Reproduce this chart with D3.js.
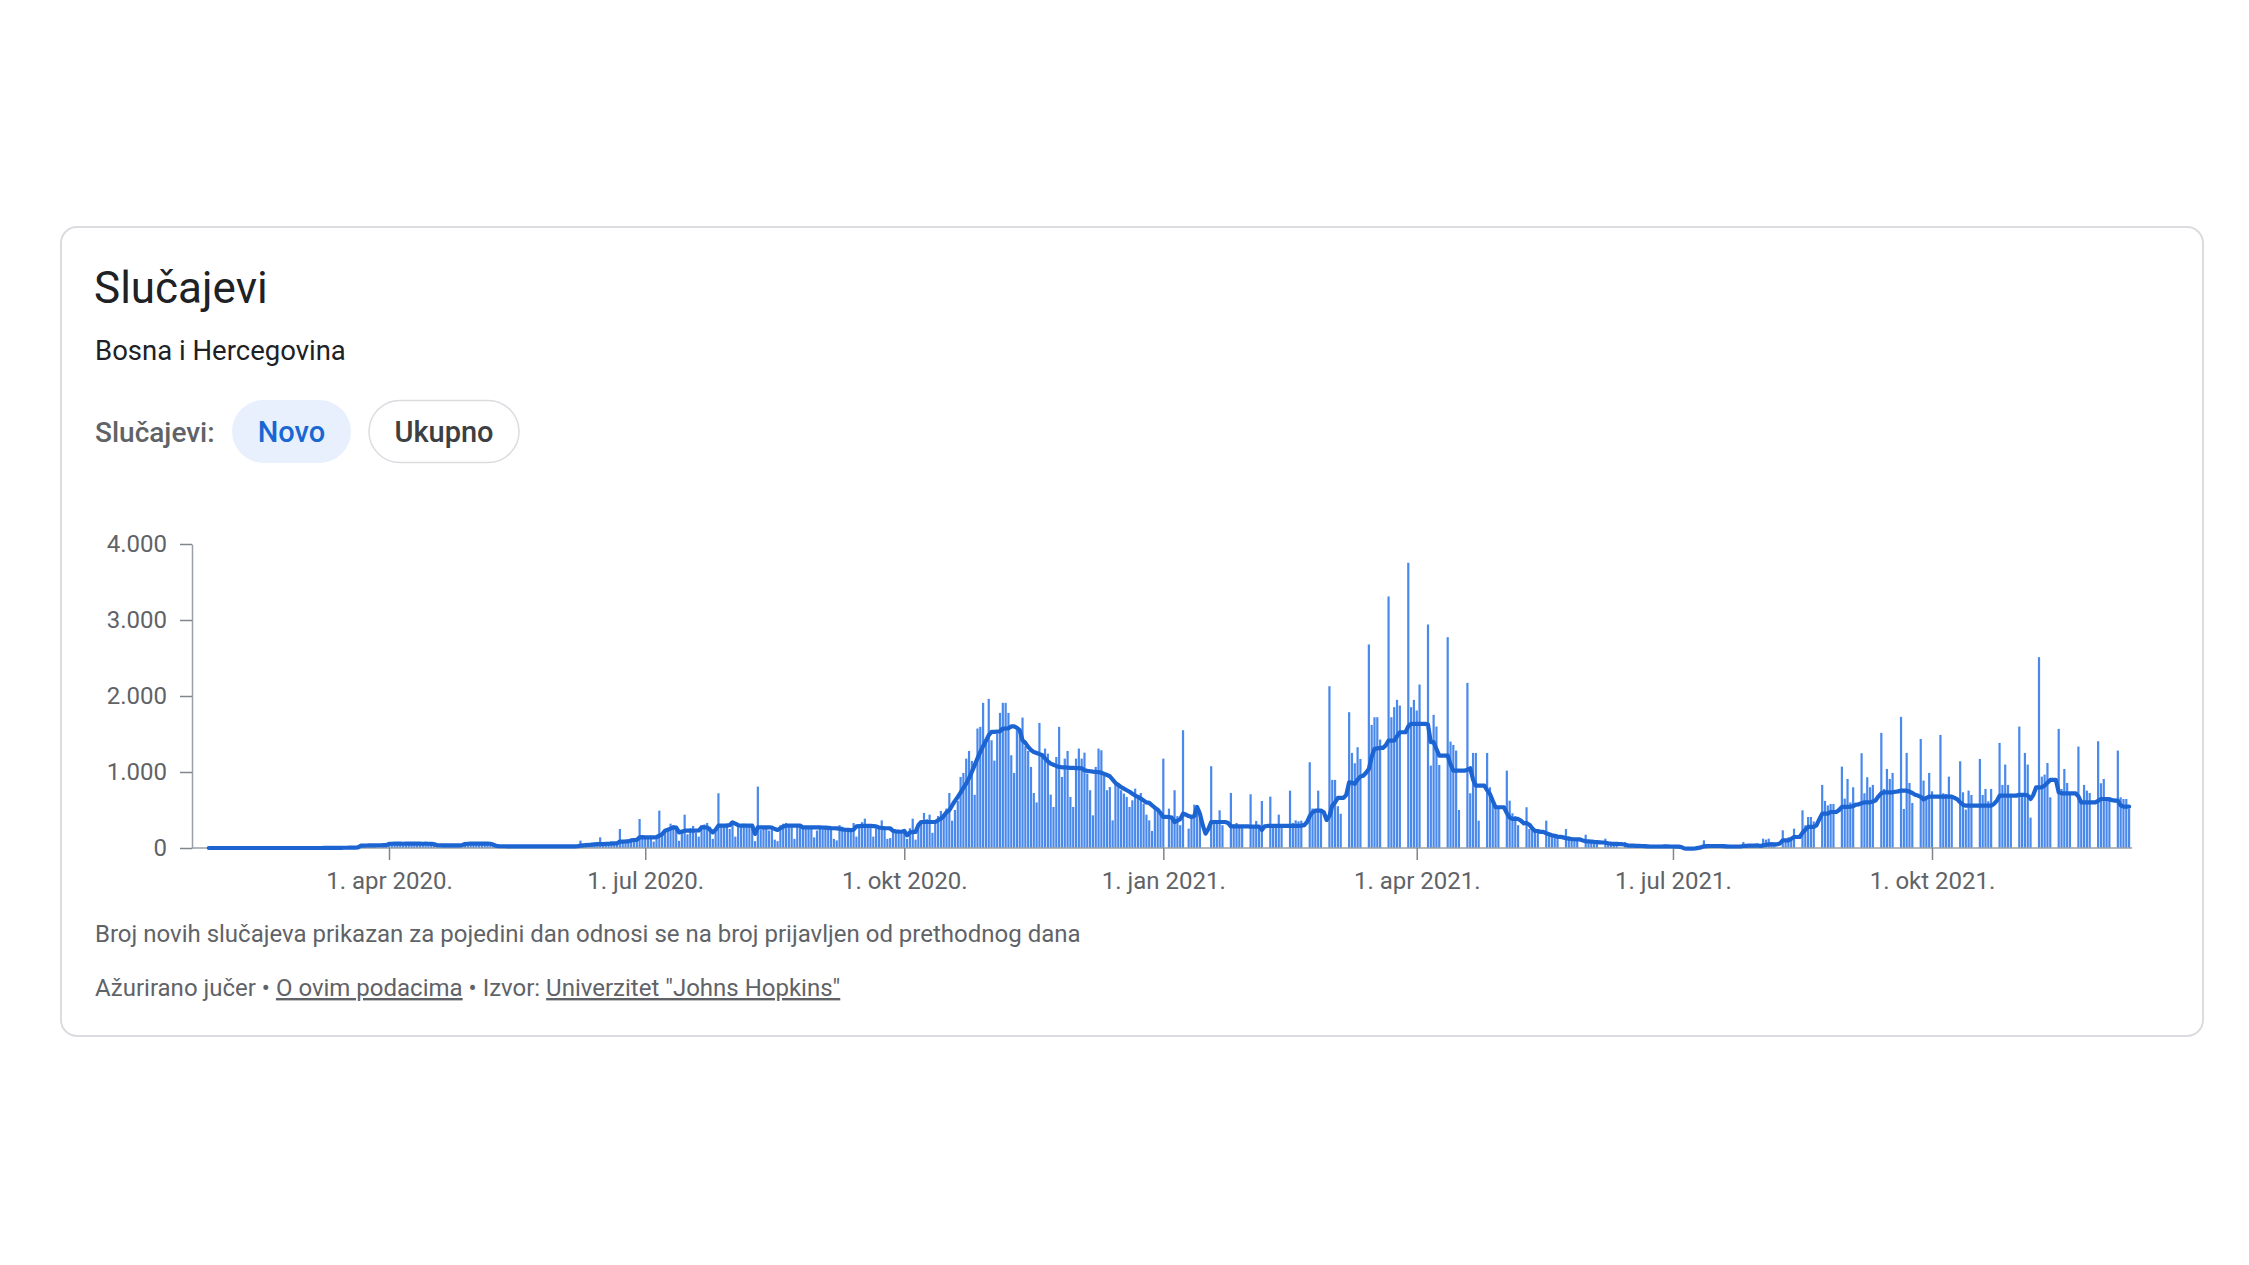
<!DOCTYPE html>
<html><head><meta charset="utf-8">
<script src="https://cdn.jsdelivr.net/npm/d3@7"></script>
<style>
html,body{margin:0;padding:0;background:#fff;}
svg{display:block;font-family:Roboto,"Noto Sans",sans-serif;}
</style></head><body>
<svg id="chart" width="2249" height="1265"></svg>
<script>
// ---- Daily new cases (c) and 7-day average (a), one array per month ----
const c2020_01 = [0,0,0,0];
const a2020_01 = [0,0,0,0];
const c2020_02 = [0,0,0,0,0,0,0,0,0,0, 0,0,0,0,0,0,0,0,0,0, 0,0,0,0,0,0,0,0,0];
const a2020_02 = [0,0,0,0,0,0,0,0,0,0, 0,0,0,0,0,0,0,0,0,0, 0,0,0,0,0,0,0,0,0];
const c2020_03 = [0,0,0,0,2,1,0,0,2,2, 4,0,3,6,4,1,5,9,10,17, 30,23,36,20,39,25,43,32,50,41, 52];
const a2020_03 = [0,0,0,0,0,0,0,0,1,1, 1,1,2,2,2,3,3,4,5,6, 8,30,32,33,34,35,35,36,36,37, 38];
const c2020_04 = [45,60,52,75,40,55,70,48,62,58, 66,50,44,72,60,55,38,30,35,28, 40,33,30,42,36,25,38,55,62,70];
const a2020_04 = [55,56,57,58,57,56,57,58,58,57, 58,57,56,57,56,55,50,38,36,35, 35,34,34,35,35,34,40,52,56,58];
const c2020_05 = [65,52,70,58,48,55,60,30,18,25, 20,28,22,15,30,24,18,26,21,19, 25,22,28,14,20,23,30,18,24,21, 26];
const a2020_05 = [58,58,59,58,57,57,56,45,30,24, 23,23,22,22,23,22,22,22,22,21, 22,22,23,22,21,22,23,22,22,22, 23];
const c2020_06 = [20,25,18,28,22,15,30,97,40,35, 45,38,52,50,140,55,48,62,88,60, 70,250,75,80,95,110,90,105,382,120];
const a2020_06 = [22,23,22,23,22,22,23,32,35,38, 40,45,48,50,52,52,54,56,58,60, 62,85,85,86,88,100,105,108,140,142];
const c2020_07 = [150,130,160,85,140,492,175,210,250,320, 300,280,95,230,439,180,260,290,200,150, 300,310,330,280,120,210,720,280,300,320, 250];
const a2020_07 = [140,140,141,140,142,162,180,228,240,255, 272,268,206,215,228,230,228,229,228,230, 272,272,270,240,206,240,294,294,294,295, 300];
const c2020_08 = [340,150,290,310,320,300,280,260,90,808, 240,250,270,230,260,110,90,300,320,330, 310,290,120,280,300,290,270,280,260,140, 230];
const a2020_08 = [338,320,300,294,294,294,294,294,185,272, 272,272,272,272,270,250,237,260,280,294, 294,294,294,294,294,272,272,272,272,272, 272];
const c2020_09 = [280,260,290,270,250,120,100,300,280,260, 250,240,329,150,300,340,386,310,300,150, 260,280,364,270,120,130,200,220,240,230];
const a2020_09 = [272,270,268,265,262,260,258,255,245,240, 238,236,240,285,288,290,292,292,290,288, 285,270,265,262,260,258,225,218,215,214];
const c2020_10 = [230,120,260,386,110,300,350,461,380,439, 200,330,420,487,450,520,724,360,500,620, 935,988,1176,1277,1146,700,1572,1594,1910,1400, 1962];
const a2020_10 = [224,167,205,210,212,300,342,342,342,342, 342,342,365,386,420,470,496,560,620,672, 730,790,847,920,1001,1090,1180,1264,1340,1410, 1484];
const c2020_11 = [1418,1150,1500,1778,1910,1910,1778,1220,988,1550, 1550,1716,1339,1277,1067,724,600,1646,1251,1308, 1242,702,540,1198,1594,935,1176,1277,672,540];
const a2020_11 = [1528,1528,1530,1535,1572,1572,1575,1600,1602,1580, 1550,1418,1383,1330,1290,1264,1250,1235,1220,1180, 1140,1111,1095,1080,1067,1062,1060,1058,1055,1054];
const c2020_12 = [1176,1308,1176,1255,979,760,430,1067,1308,1286, 957,760,803,364,869,847,760,716,672,540, 628,781,672,724,584,439,364,224,540,518, 450];
const a2020_12 = [1052,1050,1048,1023,1015,1010,1005,1001,998,990, 975,960,944,900,856,830,800,780,760,740, 715,690,672,650,625,600,593,560,530,505, 460];
const c2021_01 = [1176,0,518,380,760,420,300,1550,0,255, 420,571,540,380,0,0,0,1076,320,340, 496,300,0,0,724,310,330,290,280,0, 0];
const a2021_01 = [408,410,408,400,342,360,380,452,440,420, 408,420,540,450,300,189,250,342,342,342, 342,342,342,330,285,285,285,285,285,285, 285];
const c2021_02 = [707,280,356,300,619,0,0,676,310,300, 439,290,0,0,755,330,364,350,360,0, 0,1128,520,490,755,510,0,0];
const a2021_02 = [281,281,280,282,237,285,290,290,290,290, 290,290,290,290,290,290,290,292,295,300, 338,420,470,492,492,492,470,369];
const c2021_03 = [2129,896,896,550,450,0,0,1787,1251,1115, 1326,1172,0,0,2678,1620,1721,1721,1427,0, 0,3310,1721,1853,1949,1875,0,0,3753,1853, 1949];
const a2021_03 = [420,557,600,659,659,659,700,865,860,843, 900,940,950,990,1040,1200,1304,1310,1317,1317, 1350,1414,1414,1414,1470,1523,1523,1523,1600,1633, 1633];
const c2021_04 = [1809,2151,0,0,2941,1084,1752,1598,1093,0, 0,2774,1400,1356,1282,500,0,0,2173,720, 1251,1251,360,0,0,1251,799,588,536,536];
const a2021_04 = [1633,1633,1633,1633,1624,1392,1392,1300,1216,1216, 1216,1216,1100,1018,1018,1018,1018,1018,1030,1049, 900,821,821,821,821,760,711,620,536,536];
const c2021_05 = [0,0,1018,623,457,420,300,0,0,536, 250,250,230,220,0,0,360,184,170,160, 150,0,0,250,150,140,130,120,0,0, 175];
const a2021_05 = [536,536,460,400,382,382,382,360,325,330, 307,260,224,224,212,212,193,180,167,160, 150,146,140,130,123,118,115,113,113,100, 88];
const c2021_06 = [80,70,65,55,0,0,123,50,45,40, 35,0,0,79,30,28,25,22,0,0, 45,20,18,20,15,0,0,40,15,18];
const a2021_06 = [88,85,80,78,75,72,70,62,57,55, 55,52,50,42,35,32,30,28,28,26, 24,22,20,20,20,20,20,22,21,20];
const c2021_07 = [15,12,0,0,0,0,0,0,5,0, 0,101,20,18,22,15,0,0,50,20, 15,18,20,0,0,79,25,28,30,35, 0];
const a2021_07 = [20,18,18,12,-5,-8,-8,-8,-5,2, 8,22,24,26,26,26,26,26,24,22, 20,20,20,20,20,26,28,30,30,32, 34];
const c2021_08 = [0,123,110,123,80,70,0,0,233,120, 140,130,255,0,0,496,300,408,408,350, 0,0,830,620,560,580,580,0,0,1071, 650];
const a2021_08 = [26,35,42,48,48,48,48,60,101,101, 101,120,145,145,145,200,240,277,277,277, 300,380,452,452,452,474,474,474,500,540, 540];
const c2021_09 = [909,600,799,0,0,1247,720,931,799,830, 0,0,1515,777,1040,909,988,0,0,1725, 514,1251,856,593,0,0,1435,887,667,988];
const a2021_09 = [540,545,550,570,575,590,601,601,601,610, 628,680,720,733,733,733,733,740,745,755, 755,755,740,724,700,690,672,640,660,676];
const c2021_10 = [746,0,0,1488,720,711,939,698,0,0, 1141,733,505,755,698,0,0,1172,698,777, 615,777,0,0,1383,830,1098,830,700,0, 0];
const a2021_10 = [676,676,676,676,676,676,676,676,660,640, 600,570,557,557,557,557,557,557,557,557, 557,557,580,620,689,689,689,689,689,689, 689];
const c2021_11 = [1598,720,1251,1098,400,0,0,2511,939,966, 1119,667,0,0,1567,777,1040,856,698,0, 0,1335,601,830,755,724,0,0,1405,852];
const a2021_11 = [700,700,700,690,645,700,799,799,799,820, 860,896,896,896,733,720,720,720,720,720, 720,680,601,601,601,601,601,601,620,645];
const c2021_12 = [909,667,667,0,0,1282,667,645,645,514];
const a2021_12 = [645,645,640,630,623,623,560,544,544,544];

// ---- Axis ticks ----
const xTickDates  = ["2020-04-01","2020-07-01","2020-10-01","2021-01-01","2021-04-01","2021-07-01","2021-10-01"];
const xTickLabels = ["1. apr 2020.","1. jul 2020.","1. okt 2020.","1. jan 2021.","1. apr 2021.","1. jul 2021.","1. okt 2021."];
const yTicks      = [0,1000,2000,3000,4000];
const yTickLabels = ["0","1.000","2.000","3.000","4.000"];

// ---- Build table from the monthly arrays ----
const months = [
  ["2020-01-28",c2020_01,a2020_01],["2020-02-01",c2020_02,a2020_02],["2020-03-01",c2020_03,a2020_03],
  ["2020-04-01",c2020_04,a2020_04],["2020-05-01",c2020_05,a2020_05],["2020-06-01",c2020_06,a2020_06],
  ["2020-07-01",c2020_07,a2020_07],["2020-08-01",c2020_08,a2020_08],["2020-09-01",c2020_09,a2020_09],
  ["2020-10-01",c2020_10,a2020_10],["2020-11-01",c2020_11,a2020_11],["2020-12-01",c2020_12,a2020_12],
  ["2021-01-01",c2021_01,a2021_01],["2021-02-01",c2021_02,a2021_02],["2021-03-01",c2021_03,a2021_03],
  ["2021-04-01",c2021_04,a2021_04],["2021-05-01",c2021_05,a2021_05],["2021-06-01",c2021_06,a2021_06],
  ["2021-07-01",c2021_07,a2021_07],["2021-08-01",c2021_08,a2021_08],["2021-09-01",c2021_09,a2021_09],
  ["2021-10-01",c2021_10,a2021_10],["2021-11-01",c2021_11,a2021_11],["2021-12-01",c2021_12,a2021_12]
];
const parse = d3.utcParse("%Y-%m-%d");
const data = [];
months.forEach(([s, c, a]) => {
  const d0 = parse(s);
  c.forEach((v, i) => data.push({date: d3.utcDay.offset(d0, i), value: v, avg: a[i]}));
});

const svg = d3.select("#chart");

// card
svg.append("rect").attr("x",61).attr("y",227).attr("width",2142).attr("height",809)
  .attr("rx",16).attr("fill","#fff").attr("stroke","#dadce0").attr("stroke-width",2);

svg.append("text").attr("x",94).attr("y",303).attr("font-size",44).attr("fill","#202124").text("Slučajevi");
svg.append("text").attr("x",95).attr("y",360).attr("font-size",27.5).attr("fill","#202124").text("Bosna i Hercegovina");
svg.append("text").attr("x",95).attr("y",442).attr("font-size",28).attr("font-weight",500).attr("fill","#5f6368").text("Slučajevi:");

svg.append("rect").attr("x",232).attr("y",400).attr("width",119).attr("height",63).attr("rx",31.5).attr("fill","#e8f0fe");
svg.append("text").attr("x",291.5).attr("y",442).attr("text-anchor","middle").attr("font-size",29).attr("font-weight",500).attr("fill","#1967d2").text("Novo");
svg.append("rect").attr("x",369).attr("y",400.5).attr("width",150).attr("height",62).attr("rx",31).attr("fill","#fff").attr("stroke","#dadce0").attr("stroke-width",1.5);
svg.append("text").attr("x",444).attr("y",442).attr("text-anchor","middle").attr("font-size",29).attr("font-weight",500).attr("fill","#3c4043").text("Ukupno");

// scales
const x = d3.scaleUtc().domain([parse("2020-04-01"), parse("2021-10-01")]).range([389, 1932]);
const y = d3.scaleLinear().domain([0, 4000]).range([848, 544]);

// y axis
const gy = svg.append("g").attr("transform","translate(192,0)")
  .call(d3.axisLeft(y).tickValues(yTicks).tickFormat((d,i)=>yTickLabels[i]).tickSize(12).tickPadding(13).tickSizeOuter(0));
gy.select(".domain").attr("stroke","#9aa0a6").attr("stroke-width",1.5);
gy.selectAll(".tick line").attr("stroke","#80868b").attr("stroke-width",1.5);
gy.selectAll(".tick text").attr("fill","#5f6368").attr("font-size",24).attr("font-family","Roboto,sans-serif");

// bars
const bw = 2.2;
svg.append("g").selectAll("rect").data(data.filter(d => d.value > 0)).join("rect")
  .attr("x", d => x(d.date) - bw/2)
  .attr("y", d => y(d.value))
  .attr("width", bw)
  .attr("height", d => y(0) - y(d.value))
  .attr("fill", "#4a89ec");

// x axis
const last = data[data.length-1].date;
svg.append("line").attr("x1",192).attr("x2",x(last)+3).attr("y1",848).attr("y2",848)
  .attr("stroke","#9aa0a6").attr("stroke-width",1.5);
const gx = svg.append("g").attr("transform","translate(0,848)")
  .call(d3.axisBottom(x).tickValues(xTickDates.map(parse)).tickFormat((d,i)=>xTickLabels[i]).tickSize(12).tickPadding(12).tickSizeOuter(0));
gx.select(".domain").remove();
gx.selectAll(".tick line").attr("stroke","#80868b").attr("stroke-width",1.5);
gx.selectAll(".tick text").attr("fill","#5f6368").attr("font-size",24).attr("font-family","Roboto,sans-serif");

// 7-day average line
svg.append("path").datum(data)
  .attr("fill","none").attr("stroke","#1b64d1").attr("stroke-width",4.2)
  .attr("stroke-linejoin","round").attr("stroke-linecap","round")
  .attr("d", d3.line().x(d => x(d.date)).y(d => y(d.avg)));

// footnotes
svg.append("text").attr("x",95).attr("y",942).attr("font-size",24).attr("fill","#5f6368")
  .text("Broj novih slučajeva prikazan za pojedini dan odnosi se na broj prijavljen od prethodnog dana");
const f2 = svg.append("text").attr("x",95).attr("y",996).attr("font-size",24).attr("fill","#5f6368");
f2.append("tspan").text("Ažurirano jučer • ");
f2.append("tspan").attr("text-decoration","underline").text("O ovim podacima");
f2.append("tspan").text(" • Izvor: ");
f2.append("tspan").attr("text-decoration","underline").text("Univerzitet \"Johns Hopkins\"");
</script>
</body></html>
